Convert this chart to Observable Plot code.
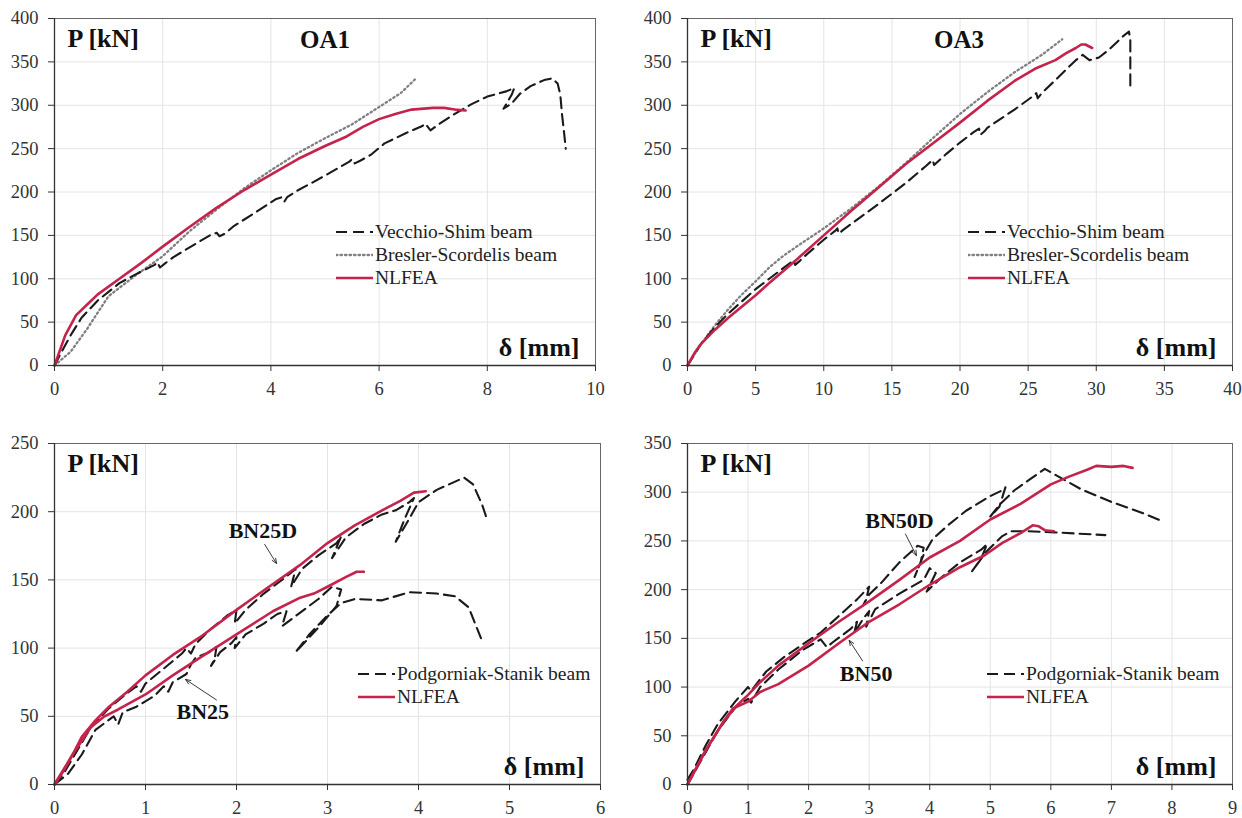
<!DOCTYPE html>
<html>
<head>
<meta charset="utf-8">
<script src="https://cdn.jsdelivr.net/npm/d3@7"></script>
<script src="https://cdn.jsdelivr.net/npm/@observablehq/plot@0.6"></script>
<style>
  html, body { margin: 0; padding: 0; background: #fff; }
  #root { position: relative; width: 1242px; height: 818px; font-family: "Liberation Serif", "DejaVu Serif", serif; }
  .panel { position: absolute; }
  .legend { position: absolute; font-size: 19.5px; color: #222; line-height: 23px; }
  .legend .row { display: flex; align-items: center; white-space: nowrap; }
  .legend svg { margin-right: 2px; }
</style>
</head>
<body>
<div id="root"></div>
<script>
// ---------- DATA ----------
// OA1
const oa1_vecchio = [[0,0],[0.15,18],[0.3,35],[0.5,55],[0.8,75],[1.2,95],[1.5,105],[1.85,116],[1.9,119],[1.95,113],[2.05,118],[2.2,125],[2.6,140],[2.9,151],[3.0,153],[3.05,149],[3.15,152],[3.3,160],[3.6,172],[3.9,184],[4.1,192],[4.2,194],[4.25,189],[4.3,194],[4.5,202],[4.8,212],[5.2,226],[5.45,235],[5.5,238],[5.55,233],[5.65,236],[5.85,243],[6.1,256],[6.5,268],[6.8,276],[6.85,279],[6.95,271],[7.1,278],[7.4,290],[7.7,301],[8.0,310],[8.35,316],[8.5,320],[8.45,312],[8.3,296],[8.45,302],[8.6,313],[8.8,322],[9.05,329],[9.2,331],[9.3,325],[9.35,312],[9.38,290],[9.42,268],[9.45,250]];
const oa1_bresler = [[0,0],[0.3,16],[0.6,42],[1.0,80],[1.5,104],[2.0,126],[2.5,155],[3.0,180],[3.5,204],[4.0,225],[4.5,245],[5.0,262],[5.5,278],[6.0,298],[6.4,314],[6.7,332]];
const oa1_nlfea = [[0,0],[0.2,35],[0.4,58],[0.6,70],[0.8,82],[1.2,100],[1.6,118],[2.0,137],[2.5,160],[3.0,182],[3.5,202],[4.0,220],[4.5,238],[5.0,253],[5.4,264],[5.7,275],[6.0,284],[6.3,290],[6.6,295],[7.0,297],[7.2,297],[7.4,295],[7.6,294]];
// OA3
const oa3_vecchio = [[0,0],[1,25],[2,44],[3,60],[4,74],[5,88],[6,100],[7,112],[7.6,119],[7.8,122],[7.9,116],[8.2,120],[8.6,126],[10,145],[10.9,156],[11.0,158],[11.1,152],[11.4,156],[12,163],[14,186],[16,210],[17.5,230],[18.0,237],[18.1,231],[18.3,234],[19,244],[20,257],[21,269],[21.4,273],[21.5,266],[21.8,270],[22,274],[24,295],[25.4,311],[25.6,314],[25.7,308],[26,314],[27,329],[28.5,352],[29,358],[29.5,352],[30.2,355],[31,365],[32,380],[32.4,385],[32.5,375],[32.5,350],[32.5,318]];
const oa3_bresler = [[0,0],[1,25],[2,46],[3,65],[4,82],[5,97],[6,113],[7,126],[8,137],[10,158],[12,181],[14,206],[16,233],[18,262],[20,290],[22,315],[24,338],[26,358],[27.5,376]];
const oa3_nlfea = [[0,0],[0.5,14],[1,25],[2,41],[3,55],[4,68],[5,81],[6,95],[8,122],[10,150],[12,178],[14,205],[16,232],[18,256],[20,280],[22,305],[24,328],[25.5,342],[27,352],[27.8,360],[28.5,366],[28.9,370],[29.2,370],[29.7,366]];
// BN25 / BN25D
const bn25d_exp = [[0,0],[0.1,8],[0.25,25],[0.4,42],[0.6,56],[0.8,67],[0.9,72],[0.95,68],[1.0,74],[1.2,85],[1.4,96],[1.45,100],[1.5,96],[1.55,103],[1.7,113],[1.9,124],[2.0,128],[1.98,118],[2.1,128],[2.3,140],[2.5,150],[2.65,158],[2.6,145],[2.72,158],[2.9,168],[3.1,177],[3.15,182],[3.05,166],[3.2,181],[3.4,191],[3.6,198],[3.75,201],[3.9,207],[3.95,210],[3.85,195],[3.75,178],[3.9,195],[4.0,207],[4.2,216],[4.5,225],[4.6,220],[4.7,205],[4.75,195]];
const bn25_exp = [[0,0],[0.15,8],[0.3,22],[0.45,40],[0.55,45],[0.65,50],[0.7,44],[0.75,53],[0.9,57],[1.1,65],[1.2,72],[1.25,68],[1.3,75],[1.45,81],[1.5,88],[1.55,93],[1.7,97],[1.78,101],[1.76,92],[1.72,87],[1.82,97],[1.95,104],[2.0,108],[1.98,100],[2.1,110],[2.3,118],[2.45,125],[2.55,127],[2.5,116],[2.7,126],[2.9,136],[3.05,145],[3.15,143],[3.1,131],[2.9,115],[2.65,97],[2.8,110],[3.0,124],[3.15,133],[3.3,136],[3.6,135],[3.9,141],[4.2,140],[4.4,138],[4.55,130],[4.7,105]];
const bn25d_nlfea = [[0,0],[0.1,10],[0.2,22],[0.3,35],[0.45,47],[0.6,57],[0.8,68],[1.0,80],[1.3,95],[1.6,108],[2.0,128],[2.4,147],[2.7,161],[3.0,177],[3.3,190],[3.6,201],[3.8,208],[3.95,214],[4.08,215]];
const bn25_nlfea = [[0,0],[0.2,22],[0.4,42],[0.55,50],[0.7,55],[1.0,66],[1.3,80],[1.6,93],[2.0,110],[2.4,127],[2.7,137],[2.85,140],[3.0,145],[3.2,152],[3.32,156],[3.4,156]];
// BN50 / BN50D
const bn50d_exp = [[0,5],[0.1,15],[0.3,40],[0.5,62],[0.8,86],[1.0,100],[1.05,96],[1.15,104],[1.3,116],[1.6,131],[2.0,148],[2.2,156],[2.5,173],[2.8,190],[3.0,203],[2.95,190],[2.9,184],[3.0,195],[3.2,207],[3.5,228],[3.8,245],[3.9,243],[3.85,228],[3.75,213],[3.9,236],[4.05,252],[4.3,266],[4.6,281],[5.0,296],[5.2,302],[5.25,305],[5.15,285],[5.0,275],[5.15,287],[5.4,302],[5.9,324],[6.5,303],[7.0,290],[7.5,279],[7.85,270]];
const bn50_exp = [[0,0],[0.2,22],[0.5,55],[0.8,80],[1.0,88],[1.05,84],[1.2,100],[1.5,118],[1.9,138],[2.2,149],[2.3,141],[2.4,146],[2.7,160],[2.8,167],[2.75,155],[2.9,170],[3.0,178],[2.95,162],[3.1,180],[3.5,196],[3.9,210],[4.0,222],[4.1,217],[3.95,198],[4.2,213],[4.5,228],[4.85,241],[4.95,247],[4.85,232],[4.7,219],[4.95,240],[5.2,255],[5.35,260],[5.6,260],[6.0,259],[6.9,256]];
const bn50d_nlfea = [[0,0],[0.3,35],[0.6,65],[0.8,80],[1.0,92],[1.2,105],[1.5,122],[2.0,145],[2.5,167],[3.0,188],[3.5,210],[4.0,233],[4.5,250],[5.0,272],[5.5,288],[6.0,308],[6.3,316],[6.6,323],[6.75,327],[7.0,326],[7.2,327],[7.35,325]];
const bn50_nlfea = [[0,0],[0.3,35],[0.6,65],[0.75,78],[1.0,85],[1.2,95],[1.5,103],[2.0,122],[2.5,145],[3.0,167],[3.5,185],[4.0,205],[4.5,223],[4.9,235],[5.2,248],[5.5,258],[5.7,266],[5.8,265],[5.9,261],[6.05,260]];

// tick labels
const oa1_xticks = [0,2,4,6,8,10];
const oa3_xticks = [0,5,10,15,20,25,30,35,40];
const bn25_xticks = [0,1,2,3,4,5,6];
const bn50_xticks = [0,1,2,3,4,5,6,7,8,9];
const yticks400 = [0,50,100,150,200,250,300,350,400];
const yticks250 = [0,50,100,150,200,250];
const yticks350 = [0,50,100,150,200,250,300,350];

// annotations [label, textX, textY, arrowFromX, arrowFromY, arrowToX, arrowToY]
const bn25_notes = [["BN25D",2.29,186,2.31,176,2.44,162],["BN25",1.63,53,1.78,62,1.44,77]];
const bn50_notes = [["BN50D",3.5,270,3.6,257,3.78,235],["BN50",2.95,113,2.89,127,2.67,148]];

// ---------- STYLE ----------
const RED = "#C4234C";
const FONT = "'Liberation Serif', 'DejaVu Serif', serif";
const styles = {
  nlfea: {stroke: RED, strokeWidth: 2.6},
  exp: {stroke: "#1a1a1a", strokeWidth: 2.1, strokeDasharray: "11,6"},
  bres: {stroke: "#808080", strokeWidth: 2.3, strokeDasharray: "1.5,3", strokeLinecap: "round"}
};

const root = document.getElementById("root");

function line(data, st) {
  return Plot.line(data, {x: d => d[0], y: d => d[1], curve: "linear", ...st});
}

function panel(o) {
  const marks = [
    Plot.gridX(o.xticks, {stroke: "#e4e4e4", strokeOpacity: 1, strokeWidth: 1}),
    Plot.gridY(o.yticks, {stroke: "#e4e4e4", strokeOpacity: 1, strokeWidth: 1}),
    Plot.frame({stroke: "#666", strokeWidth: 1}),
    ...o.series.map(([d, st]) => line(d, st)),
    Plot.ruleX([o.xdomain[0]], {stroke: "#333", strokeWidth: 1.3}),
    Plot.ruleY([o.ydomain[0]], {stroke: "#333", strokeWidth: 1.3}),
    Plot.axisX(o.xticks, {tickSize: 6, tickPadding: 10, fontSize: 18.5, stroke: "#333", fill: "#333"}),
    Plot.axisY(o.yticks, {tickSize: 6, tickPadding: 10, fontSize: 18.5, stroke: "#333", fill: "#333"}),
    Plot.text(["P [kN]"], {frameAnchor: "top-left", dx: 13, dy: 10, fontSize: 26, fontWeight: "bold", fill: "#111", textAnchor: "start", lineAnchor: "top"}),
    Plot.text(["δ [mm]"], {frameAnchor: "bottom-right", dx: -16, dy: -10, fontSize: 26, fontWeight: "bold", fill: "#111", textAnchor: "end", lineAnchor: "bottom"})
  ];
  if (o.title) marks.push(Plot.text([o.title], {frameAnchor: "top", dx: o.titleDx, dy: 12, fontSize: 25, fontWeight: "bold", fill: "#111", lineAnchor: "top"}));
  if (o.notes) {
    marks.push(Plot.text(o.notes, {x: d => d[1], y: d => d[2], text: d => d[0], fontSize: 22, fontWeight: "bold", fill: "#111"}));
    marks.push(Plot.arrow(o.notes, {x1: d => d[3], y1: d => d[4], x2: d => d[5], y2: d => d[6], stroke: "#222", strokeWidth: 0.9, headLength: 9, headAngle: 45}));
  }
  const svg = Plot.plot({
    width: o.width, height: o.height,
    marginLeft: o.ml, marginRight: o.mr, marginTop: o.mt, marginBottom: o.mb,
    x: {domain: o.xdomain},
    y: {domain: o.ydomain},
    style: {fontFamily: FONT, background: "transparent", overflow: "visible"},
    marks
  });
  const div = document.createElement("div");
  div.className = "panel";
  div.style.left = o.left + "px";
  div.style.top = o.top + "px";
  div.appendChild(svg);
  root.appendChild(div);
}

function legend(left, top, items) {
  const el = document.createElement("div");
  el.className = "legend";
  el.style.left = left + "px";
  el.style.top = top + "px";
  for (const [label, st] of items) {
    const row = document.createElement("div");
    row.className = "row";
    const dash = st.strokeDasharray ? `stroke-dasharray="${st.strokeDasharray}"` : "";
    row.innerHTML = `<svg width="37" height="10"><line x1="0" y1="5" x2="37" y2="5" stroke="${st.stroke}" stroke-width="${st.strokeWidth}" ${dash} stroke-linecap="${st.strokeLinecap || 'butt'}"/></svg><span>${label}</span>`;
    el.appendChild(row);
  }
  root.appendChild(el);
}

panel({left: 0, top: 0, width: 621, height: 400, ml: 54, mr: 26, mt: 18, mb: 35,
  xdomain: [0, 10], ydomain: [0, 400], xticks: oa1_xticks, yticks: yticks400,
  title: "OA1", titleDx: 0,
  series: [[oa1_bresler, styles.bres], [oa1_vecchio, styles.exp], [oa1_nlfea, styles.nlfea]]});
panel({left: 621, top: 0, width: 621, height: 400, ml: 66, mr: 10, mt: 18, mb: 35,
  xdomain: [0, 40], ydomain: [0, 400], xticks: oa3_xticks, yticks: yticks400,
  title: "OA3", titleDx: -1,
  series: [[oa3_bresler, styles.bres], [oa3_vecchio, styles.exp], [oa3_nlfea, styles.nlfea]]});
panel({left: 0, top: 400, width: 621, height: 418, ml: 54, mr: 21, mt: 43, mb: 34,
  xdomain: [0, 6], ydomain: [0, 250], xticks: bn25_xticks, yticks: yticks250,
  notes: bn25_notes,
  series: [[bn25_exp, styles.exp], [bn25d_exp, styles.exp], [bn25_nlfea, styles.nlfea], [bn25d_nlfea, styles.nlfea]]});
panel({left: 621, top: 400, width: 621, height: 418, ml: 66, mr: 10, mt: 43, mb: 34,
  xdomain: [0, 9], ydomain: [0, 350], xticks: bn50_xticks, yticks: yticks350,
  notes: bn50_notes,
  series: [[bn50_exp, styles.exp], [bn50d_exp, styles.exp], [bn50_nlfea, styles.nlfea], [bn50d_nlfea, styles.nlfea]]});

legend(336, 220, [["Vecchio-Shim beam", styles.exp], ["Bresler-Scordelis beam", styles.bres], ["NLFEA", styles.nlfea]]);
legend(968, 220, [["Vecchio-Shim beam", styles.exp], ["Bresler-Scordelis beam", styles.bres], ["NLFEA", styles.nlfea]]);
legend(358, 662, [["Podgorniak-Stanik beam", styles.exp], ["NLFEA", styles.nlfea]]);
legend(987, 662, [["Podgorniak-Stanik beam", styles.exp], ["NLFEA", styles.nlfea]]);
</script>
</body>
</html>
